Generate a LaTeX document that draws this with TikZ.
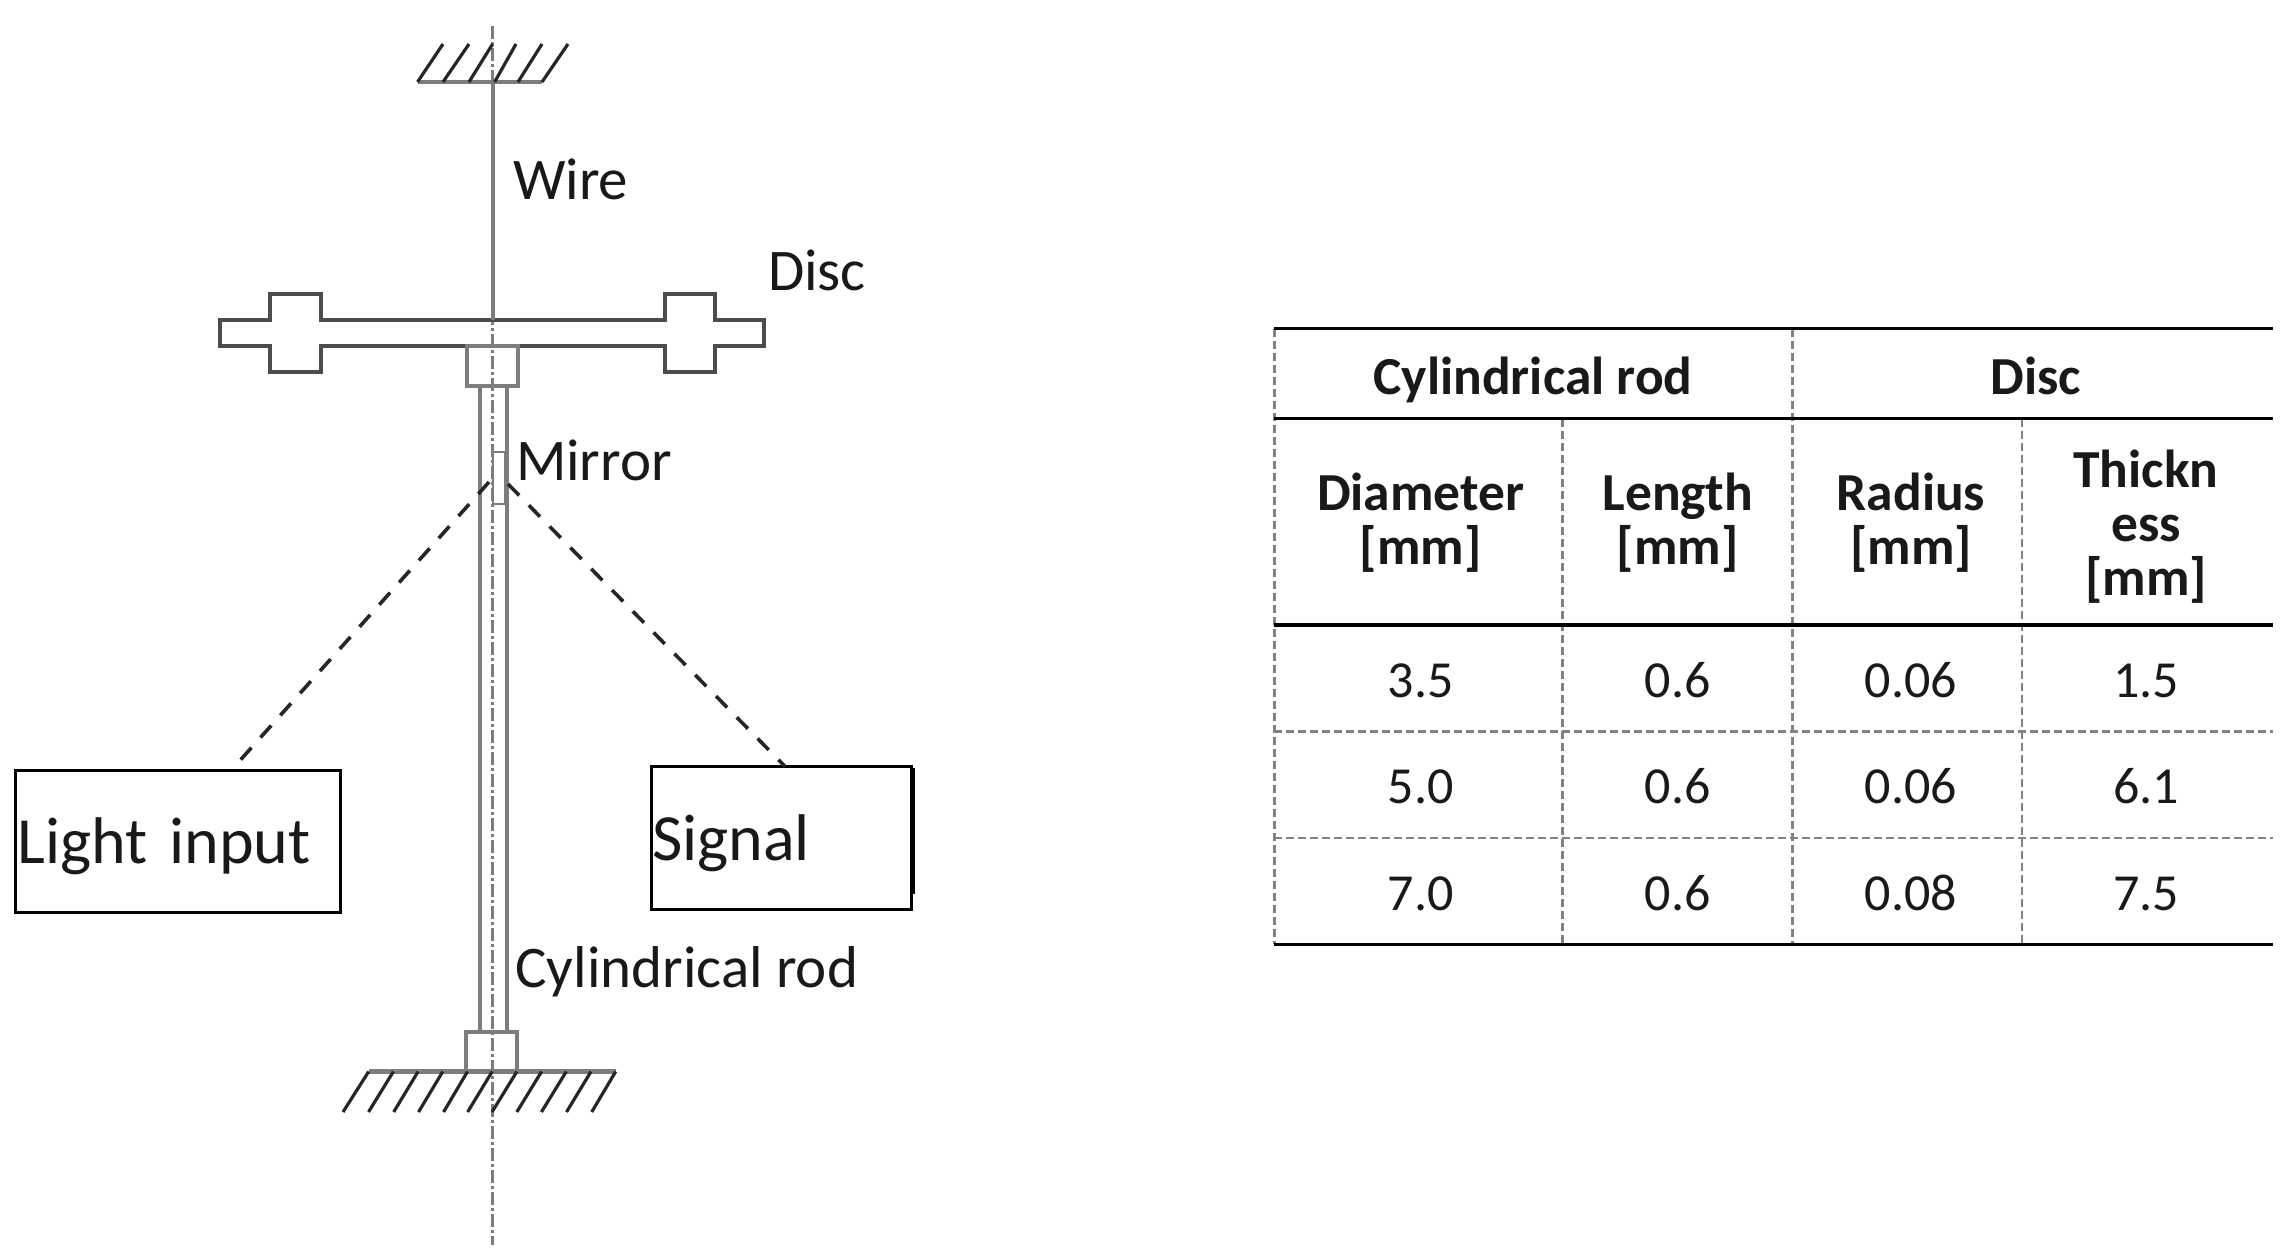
\documentclass[tikz,border=0pt]{standalone}
\usepackage{fontspec}
\setmainfont{Carlito}
\usetikzlibrary{positioning}
\definecolor{rodgray}{RGB}{125,125,125}
\definecolor{gridgray}{RGB}{130,130,130}
\definecolor{inkdark}{RGB}{25,25,25}
\begin{document}
\begin{tikzpicture}[x=1pt,y=-1pt,semithick,text=inkdark,inner sep=0pt,outer sep=0pt]
	\tikzstyle{part}=[draw=rodgray,line width=4pt]
	\tikzstyle{edgeline}=[draw=black!70,line width=4pt]
	\tikzstyle{hatch}=[draw=black!85,line width=3.2pt]
	\tikzstyle{axis}=[draw=rodgray,line width=2.4pt,dash pattern=on 13pt off 3pt on 3pt off 3pt]
	\tikzstyle{beam}=[draw=black!85,line width=3.6pt,dash pattern=on 16pt off 13.7pt]
	\tikzstyle{label}=[font=\fontsize{59}{62}\selectfont,anchor=base west]
	\tikzstyle{sidebox}=[draw=black,line width=3pt,font=\fontsize{66}{70}\selectfont,align=left,text height=56pt,text depth=12pt]
	\tikzstyle{head}=[font=\fontsize{53.5}{54}\selectfont\bfseries,align=center]
	\tikzstyle{cell}=[font=\fontsize{52}{54}\selectfont,anchor=base]
	\tikzstyle{rulesolid}=[draw=black,line width=3.4pt]
	\tikzstyle{ruledash}=[draw=gridgray,line width=2.4pt,dash pattern=on 8pt off 4pt]

	\useasboundingbox (0,0) rectangle (2288,1259);
	\fill[white] (0,0) rectangle (2288,1259);

	% axis
	\coordinate (axistop) at (492.6,26);
	\coordinate (axisbot) at (492.6,1245);
	\draw[axis] (axistop) -- (axisbot);

	% top ground
	\coordinate (topwall) at (492.6,82);
	\draw[part] (417.5,82) -- (542,82);
	\draw[hatch] (417.5,82) -- (443,44)
	(443,82) -- (469,44)
	(469,82) -- (492.6,44)
	(494.6,82) -- (516,44)
	(518,82) -- (542,44)
	(542,82) -- (568,44);

	% disc
	\coordinate (dischub) at (492.6,320);
	\draw[edgeline] (220,320) -- (270.4,320) -- (270.4,293.6) -- (320.6,293.6) -- (320.6,320)
	-- (664.6,320) -- (664.6,293.6) -- (715.2,293.6) -- (715.2,320) -- (763.5,320)
	-- (763.5,345.7) -- (715.2,345.7) -- (715.2,372) -- (664.6,372) -- (664.6,345.7)
	-- (320.6,345.7) -- (320.6,372) -- (270.4,372) -- (270.4,345.7) -- (220,345.7) -- cycle;
	\draw[part] (topwall) -- (dischub);

	% rod, collars
	\draw[part] (480,385.7) -- (480,1031.5);
	\draw[part] (506.5,385.7) -- (506.5,1031.5);
	\draw[part] (467,345.7) rectangle (518,385.7);
	\draw[part] (466.4,1031.5) rectangle (517.4,1071);

	% bottom ground
	\draw[part,line width=5.5pt] (368.7,1071.5) -- (615.7,1071.5);
	\draw[hatch] (368.7,1071.5) -- (343,1112)
	(393.4,1071.5) -- (368.5,1112)
	(418.1,1071.5) -- (393.7,1112)
	(442.8,1071.5) -- (418.5,1112)
	(467.5,1071.5) -- (443.6,1112)
	(492.2,1071.5) -- (467.6,1112)
	(516.9,1071.5) -- (492,1112)
	(541.6,1071.5) -- (516.8,1112)
	(566.3,1071.5) -- (541.4,1112)
	(591,1071.5) -- (566.5,1112)
	(615.7,1071.5) -- (591.7,1112);

	% mirror and light path
	\node[draw=rodgray,line width=2pt,minimum width=12.4pt,minimum height=52pt] (mirror) at (498.8,478) {};
	\coordinate (beamin) at (489,482);
	\coordinate (beamout) at (508,484);
	\node[sidebox,minimum width=325pt,minimum height=142pt,text width=320pt,inner xsep=2.5pt] (lightbox) at (177.5,841.5) {Light input};
	\node[sidebox,minimum width=259.6pt,minimum height=142.6pt,text width=259pt,inner xsep=0.3pt] (signalbox) at (781.5,838) {Signal};
	\draw[black,line width=3pt] (913.5,768) -- (913.5,894);
	\draw[beam,shorten >=14pt] (beamin) -- (lightbox.53.2);
	\draw[beam] (beamout) -- (signalbox.87.2);

	% labels
	\node[label] (wirelabel) at (513,199.5) {Wire};
	\node[label] (disclabel) at (768,290) {Disc};
	\node[label] (mirrorlabel) at (516,480.5) {Mirror};
	\node[label] (rodlabel) at (515.5,987) {Cylindrical rod};

	% table rules
	\draw[ruledash] (1274.4,328.7) -- (1274.4,944.3);
	\draw[ruledash] (1562.3,418.6) -- (1562.3,944.3);
	\draw[ruledash] (1792.5,328.7) -- (1792.5,944.3);
	\draw[ruledash] (2022,418.6) -- (2022,944.3);
	\draw[ruledash] (1274.4,731.6) -- (2273,731.6);
	\draw[ruledash] (1274.4,838) -- (2273,838);
	\draw[rulesolid] (1274.4,328.7) -- (2273,328.7);
	\draw[rulesolid] (1274.4,418.6) -- (2273,418.6);
	\draw[rulesolid] (1274.4,625) -- (2273,625);
	\draw[rulesolid] (1274.4,944.3) -- (2273,944.3);

	% table head
	\node[head,anchor=base] (hrod) at (1533,394) {Cylindrical rod};
	\node[head,anchor=base] (hdisc) at (2036,394) {Disc};
	\node[head] (hdia) at (1420.6,523) {Diameter\\{}[mm]};
	\node[head] (hlen) at (1677.7,523) {Length\\{}[mm]};
	\node[head] (hrad) at (1911,523) {Radius\\{}[mm]};
	\node[head] (hthk) at (2146,526.5) {Thickn\\ess\\{}[mm]};

	% table body
	\node[cell] (a1) at (1420.6,697.5) {3.5};
	\node[cell] (b1) at (1677.7,697.5) {0.6};
	\node[cell] (c1) at (1911,697.5) {0.06};
	\node[cell] (d1) at (2146,697.5) {1.5};
	\node[cell] (a2) at (1420.6,803.5) {5.0};
	\node[cell] (b2) at (1677.7,803.5) {0.6};
	\node[cell] (c2) at (1911,803.5) {0.06};
	\node[cell] (d2) at (2146,803.5) {6.1};
	\node[cell] (a3) at (1420.6,910) {7.0};
	\node[cell] (b3) at (1677.7,910) {0.6};
	\node[cell] (c3) at (1911,910) {0.08};
	\node[cell] (d3) at (2146,910) {7.5};
\end{tikzpicture}
\end{document}
